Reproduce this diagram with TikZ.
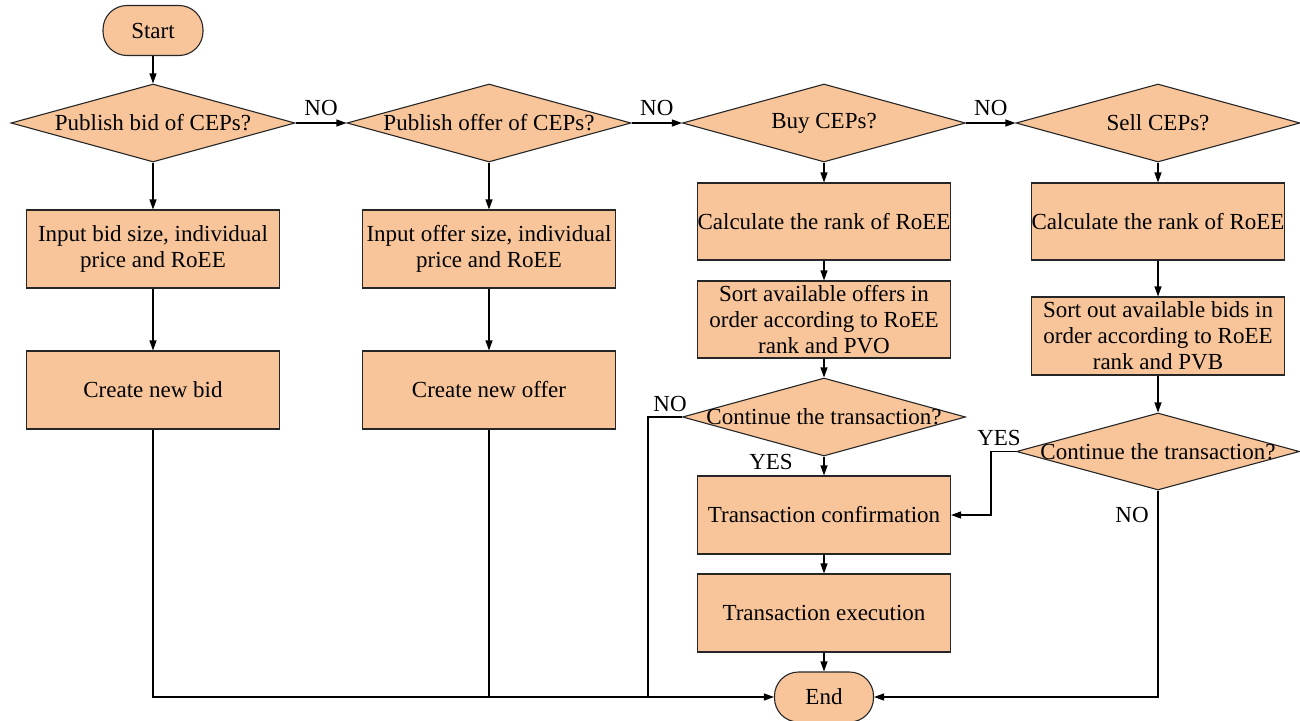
\documentclass[tikz,border=0pt]{standalone}
\usepackage{fontspec}
\setmainfont{Liberation Serif}
\usetikzlibrary{shapes.geometric,arrows.meta}
\definecolor{peach}{HTML}{F8C59A}
\begin{document}
\begin{tikzpicture}[x=1pt,y=-1pt,
  font=\fontsize{23}{26}\selectfont,
  base/.style={draw=black!85, fill=peach, line width=1.1pt},
  proc/.style={base, rectangle, minimum width=253pt, minimum height=78pt, align=center, inner sep=0pt},
  term/.style={base, rectangle, rounded corners=24pt, minimum width=100pt, minimum height=50pt, inner sep=0pt},
  dec/.style={base, diamond, minimum width=284pt, minimum height=78pt, inner sep=0pt},
  txt/.style={inner sep=0pt},
  arr/.style={line width=1.1pt, -{Triangle[length=10pt,width=7pt]}},
  ln/.style={line width=1.1pt},
  lbl/.style={inner sep=0pt}]
\useasboundingbox (0,0) rectangle (1300,720);

% terminals
\node[term] (start) at (153,30.5) {Start};
\node[term, minimum width=99pt] (end) at (824,697) {End};

% top decisions
\node[dec] (d1) at (153,123) {};
\node[txt] (t1) at (d1.center) {Publish bid of CEPs?};
\node[dec] (d2) at (489,123) {};
\node[txt] (t2) at (d2.center) {Publish offer of CEPs?};
\node[dec, minimum width=283pt] (d3) at (824,123) {};
\node[txt] (t3) at (d3.center) {Buy CEPs?};
\node[dec] (d4) at (1158,123) {};
\node[txt] (t4) at (d4.center) {Sell CEPs?};

% column 1
\node[proc] (r1) at (153,249) {Input bid size, individual\\price and RoEE};
\node[proc] (r2) at (153,390) {Create new bid};
% column 2
\node[proc] (r3) at (489,249) {Input offer size, individual\\price and RoEE};
\node[proc] (r4) at (489,390) {Create new offer};
% column 3
\node[proc, minimum height=77pt] (r5) at (824,221.5) {Calculate the rank of RoEE};
\node[proc, minimum height=77pt] (r6) at (824,319.5) {Sort available offers in\\order according to RoEE\\rank and PVO};
\node[dec, minimum width=283pt] (d5) at (824,417) {};
\node[txt] (t5) at (d5.center) {Continue the transaction?};
\node[proc] (r7) at (824,515) {Transaction confirmation};
\node[proc] (r8) at (824,613) {Transaction execution};
% column 4
\node[proc, minimum height=77pt] (r9) at (1158,221.5) {Calculate the rank of RoEE};
\node[proc] (r10) at (1158,336) {Sort out available bids in\\order according to RoEE\\rank and PVB};
\node[dec, minimum width=283pt, minimum height=77pt] (d6) at (1158,451.5) {};
\node[txt] (t6) at (d6.center) {Continue the transaction?};

% junction coordinates
\coordinate (j1) at (648,0);
\coordinate (j2) at (991,0);

% connectors
\draw[arr] (start) -- (d1.north);
\draw[arr] (d1.east) -- node[lbl, above=7pt] (n1) {NO} (d2.west);
\draw[arr] (d2.east) -- node[lbl, above=7pt] (n2) {NO} (d3.west);
\draw[arr] (d3.east) -- node[lbl, above=7pt] (n3) {NO} (d4.west);

\draw[arr] (d1.south) -- (r1.north);
\draw[arr] (r1.south) -- (r2.north);
\draw[arr] (d2.south) -- (r3.north);
\draw[arr] (r3.south) -- (r4.north);

\draw[arr] (d3.south) -- (r5.north);
\draw[arr] (r5.south) -- (r6.north);
\draw[arr] (r6.south) -- (d5.north);
\draw[arr] (d5.south) -- (r7.north);
\draw[arr] (r7.south) -- (r8.north);
\draw[arr] (r8.south) -- (end.north);

\draw[arr] (d4.south) -- (r9.north);
\draw[arr] (r9.south) -- (r10.north);
\draw[arr] (r10.south) -- (d6.north);

\draw[arr] (r2.south) |- (end.west);
\draw[ln] (r4.south) -- (r4.south |- end.west);
\draw[ln] (d5.west) -| (j1 |- end.west);
\draw[arr] (d6.west) -| (j2 |- r7.east) -- (r7.east);
\draw[arr] (d6.south) |- (end.east);

% branch labels
\node[lbl] (n4) at (670,404) {NO};
\node[lbl] (y1) at (771,462) {YES};
\node[lbl] (y2) at (999,438) {YES};
\node[lbl] (n5) at (1132,515) {NO};
\end{tikzpicture}
\end{document}
